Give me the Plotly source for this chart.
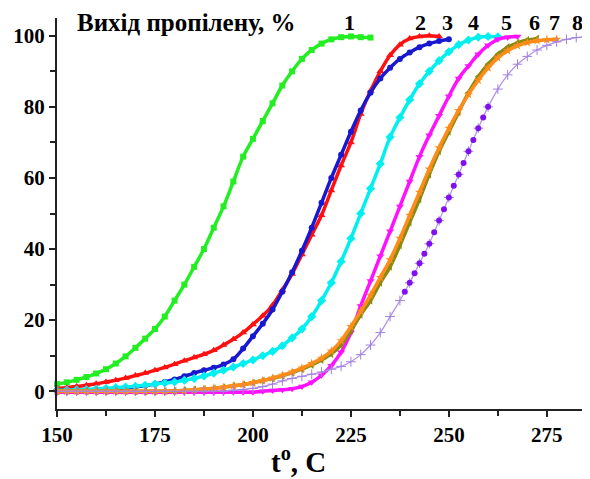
import plotly.graph_objects as go

temps = [150, 152.5, 155, 157.5, 160, 162.5, 165, 167.5, 170, 172.5, 175, 177.5,
         180, 182.5, 185, 187.5, 190, 192.5, 195, 197.5, 200, 202.5, 205, 207.5,
         210, 212.5, 215, 217.5, 220, 222.5, 225, 227.5, 230, 232.5, 235, 237.5,
         240, 242.5, 245, 247.5, 250, 252.5, 255, 257.5, 260, 262.5, 265, 267.5,
         270, 272.5, 275, 277.5, 280, 282.5, 285]

y1 = [2.0, 2.5, 3.2, 4.0, 5.0, 6.2, 7.8, 9.8, 12.2, 14.8, 17.5, 21.0, 25.5, 30.0,
      35.0, 40.0, 46.0, 52.0, 59.0, 66.0, 71.0, 76.0, 81.0, 86.0, 90.0, 93.5, 96.0,
      97.8, 99.0, 99.6, 99.8, 99.6, 99.5]
y2 = [0.8, 1.0, 1.3, 1.7, 2.1, 2.6, 3.1, 3.7, 4.4, 5.1, 5.9, 6.7, 7.6, 8.6, 9.5,
      10.4, 11.5, 13.0, 14.6, 16.5, 18.8, 21.2, 24.2, 28.5, 33.0, 38.5, 44.0, 49.5,
      56.5, 63.5, 70.0, 78.0, 84.5, 90.0, 94.5, 97.5, 99.2, 99.8, 100.0, 99.8]
y3 = [0.2, 0.2, 0.3, 0.3, 0.4, 0.5, 0.7, 0.9, 1.2, 1.6, 2.0, 2.6, 3.3, 4.2, 5.1,
      5.9, 6.6, 7.5, 9.0, 12.0, 15.5, 19.0, 23.0, 28.0, 33.5, 39.5, 46.0, 53.0,
      60.0, 66.5, 73.0, 79.0, 84.0, 88.0, 91.0, 93.5, 95.3, 96.8, 97.8, 98.5, 99.0]
y4 = [0.2, 0.3, 0.4, 0.5, 0.6, 0.8, 1.0, 1.2, 1.4, 1.7, 2.0, 2.3, 2.6, 3.1, 3.6,
      4.3, 5.1, 5.9, 6.8, 7.8, 8.8, 10.0, 11.2, 12.8, 15.0, 17.5, 21.0, 25.5, 30.5,
      36.5, 43.0, 50.0, 57.0, 64.0, 71.5, 77.0, 82.0, 86.5, 90.0, 93.0, 95.5, 97.5,
      98.8, 99.6, 99.8, 99.7]
y5 = [-0.3, -0.3, -0.3, -0.3, -0.3, -0.3, -0.3, -0.3, -0.3, -0.3, -0.3, -0.3,
      -0.3, -0.3, -0.3, -0.3, -0.3, -0.3, -0.3, -0.3, -0.3, 0.0, 0.2, 0.4, 0.7,
      1.3, 2.5, 4.5, 7.2, 11.0, 16.5, 24.0, 31.0, 38.0, 45.0, 52.0, 59.0, 66.0,
      72.0, 77.5, 83.0, 88.0, 91.5, 94.8, 97.3, 99.0, 99.6, 99.8]
y6 = [0.0, 0.0, 0.0, 0.0, 0.0, 0.0, 0.0, 0.0, 0.0, 0.0, 0.0, 0.0, 0.1, 0.2, 0.4,
      0.6, 0.8, 1.1, 1.5, 1.9, 2.4, 3.0, 3.6, 4.3, 5.2, 6.2, 7.4, 8.8, 10.5, 13.0,
      17.0, 21.5, 25.5, 30.5, 35.0, 41.0, 47.5, 54.0, 61.0, 67.5, 73.0, 78.5, 84.0,
      88.5, 92.0, 94.8, 96.8, 98.0, 98.8, 99.2]
y7 = [0.0, 0.0, 0.0, 0.0, 0.0, 0.0, 0.0, 0.0, 0.0, 0.0, 0.0, 0.0, 0.1, 0.2, 0.4,
      0.6, 0.8, 1.1, 1.5, 1.9, 2.4, 3.0, 3.7, 4.5, 5.4, 6.5, 7.8, 9.3, 11.3, 14.2,
      18.2, 22.5, 27.0, 32.0, 37.0, 43.0, 49.5, 56.0, 62.5, 68.5, 74.0, 79.0, 83.5,
      87.5, 91.0, 93.8, 95.8, 97.2, 98.1, 98.6, 98.9, 99.0]
y8 = [0.0, 0.0, 0.0, 0.0, 0.0, 0.0, 0.0, 0.0, 0.0, 0.0, 0.0, 0.0, 0.0, 0.0, 0.0,
      0.0, 0.0, 0.0, 0.3, 0.5, 0.8, 1.3, 2.0, 2.9, 3.6, 4.2, 4.8, 5.4, 6.2, 7.0,
      8.3, 10.3, 13.0, 16.5, 21.0, 25.5, 30.5, 36.0, 41.5, 48.0, 54.5, 61.0, 67.5,
      74.0, 80.0, 85.0, 89.0, 92.0, 94.2, 96.0, 97.3, 98.3, 99.0, 99.5, 99.7]

dot_t = [238.75, 240, 241.25, 242.5, 243.75, 245, 246.25, 247.5, 248.75, 250,
         251.25, 252.5, 253.75, 255, 256.25, 257.5, 258.75, 260]
dot_y = [28.0, 30.5, 33.2, 36.0, 38.7, 41.5, 44.7, 48.0, 51.2, 54.5, 57.8, 61.0,
         64.2, 67.5, 70.7, 74.0, 77.0, 80.0]

curve_labels = ["1", "2", "3", "4", "5", "6", "7", "8"]
label_t = [224.7, 242.8, 249.6, 256.3, 264.8, 271.8, 277.0, 282.7]
title_text = "Вихід пропілену, %"
x_ticks = [150, 175, 200, 225, 250, 275]
y_ticks = [0, 20, 40, 60, 80, 100]

series = [
    (y1, "#22ee22", "square", 6),
    (y2, "#ff1010", "triangle-up", 7),
    (y3, "#1818d0", "circle", 6),
    (y4, "#00f0f0", "diamond", 7),
    (y5, "#ff10ff", "triangle-down", 7),
    (y6, "#8a8a10", "triangle-left", 7),
    (y7, "#ff8c1a", "star", 7),
]

FONT = "Liberation Serif"
fig = go.Figure()
for ys, col, sym, sz in series:
    fig.add_trace(go.Scatter(
        x=temps[:len(ys)], y=ys, mode="lines+markers",
        line=dict(color=col, width=3.5, shape="spline"),
        marker=dict(symbol=sym, size=sz, color=col, line=dict(width=0)),
        showlegend=False, hoverinfo="skip", cliponaxis=False))

fig.add_trace(go.Scatter(
    x=temps[:len(y8)], y=y8, mode="lines+markers",
    line=dict(color="#b090e8", width=1.2, shape="spline"),
    marker=dict(symbol="cross-thin", size=7, color="#a080e0",
                line=dict(color="#a080e0", width=1)),
    showlegend=False, hoverinfo="skip", cliponaxis=False))

fig.add_trace(go.Scatter(
    x=dot_t, y=dot_y, mode="markers",
    marker=dict(symbol="circle", size=6, color="#8010f0"),
    showlegend=False, hoverinfo="skip"))

fig.add_annotation(x=154.6, y=103.6, xref="x", yref="y", text=title_text,
                   showarrow=False, xanchor="left", yanchor="middle",
                   font=dict(family=FONT, size=25, color="black", weight="bold"))
for lab, t in zip(curve_labels, label_t):
    fig.add_annotation(x=t, y=103.6, xref="x", yref="y", text=lab,
                       showarrow=False, xanchor="center", yanchor="middle",
                       font=dict(family=FONT, size=22, color="black", weight="bold"))

fig.add_annotation(x=0.454, y=-0.13, xref="paper", yref="paper",
                   text="t<sup>o</sup>, C", showarrow=False,
                   xanchor="center", yanchor="middle",
                   font=dict(family=FONT, size=29, color="black", weight="bold"))

axis_common = dict(showgrid=False, zeroline=False, showline=True,
                   linecolor="#222222", linewidth=2, ticks="outside",
                   ticklen=6, tickwidth=1.5, tickcolor="#222222",
                   automargin=False,
                   tickfont=dict(family=FONT, size=21, color="black", weight="bold"))

# page body has an 8px default margin, so the figure is placed 8px in/down
fig.update_layout(
    width=590, height=479,
    margin=dict(l=49, r=10, t=10, b=78),
    paper_bgcolor="white", plot_bgcolor="white",
    xaxis=dict(range=[150, 285.5], tickvals=x_ticks,
               minor=dict(ticks="outside", ticklen=5, dtick=12.5, tick0=150,
                          tickcolor="#222222", tickwidth=1.5),
               **axis_common),
    yaxis=dict(range=[-5, 105], tickvals=y_ticks,
               minor=dict(ticks="outside", ticklen=5, dtick=10, tick0=0,
                          tickcolor="#222222", tickwidth=1.5),
               **axis_common),
)

fig.write_html("out.html")
